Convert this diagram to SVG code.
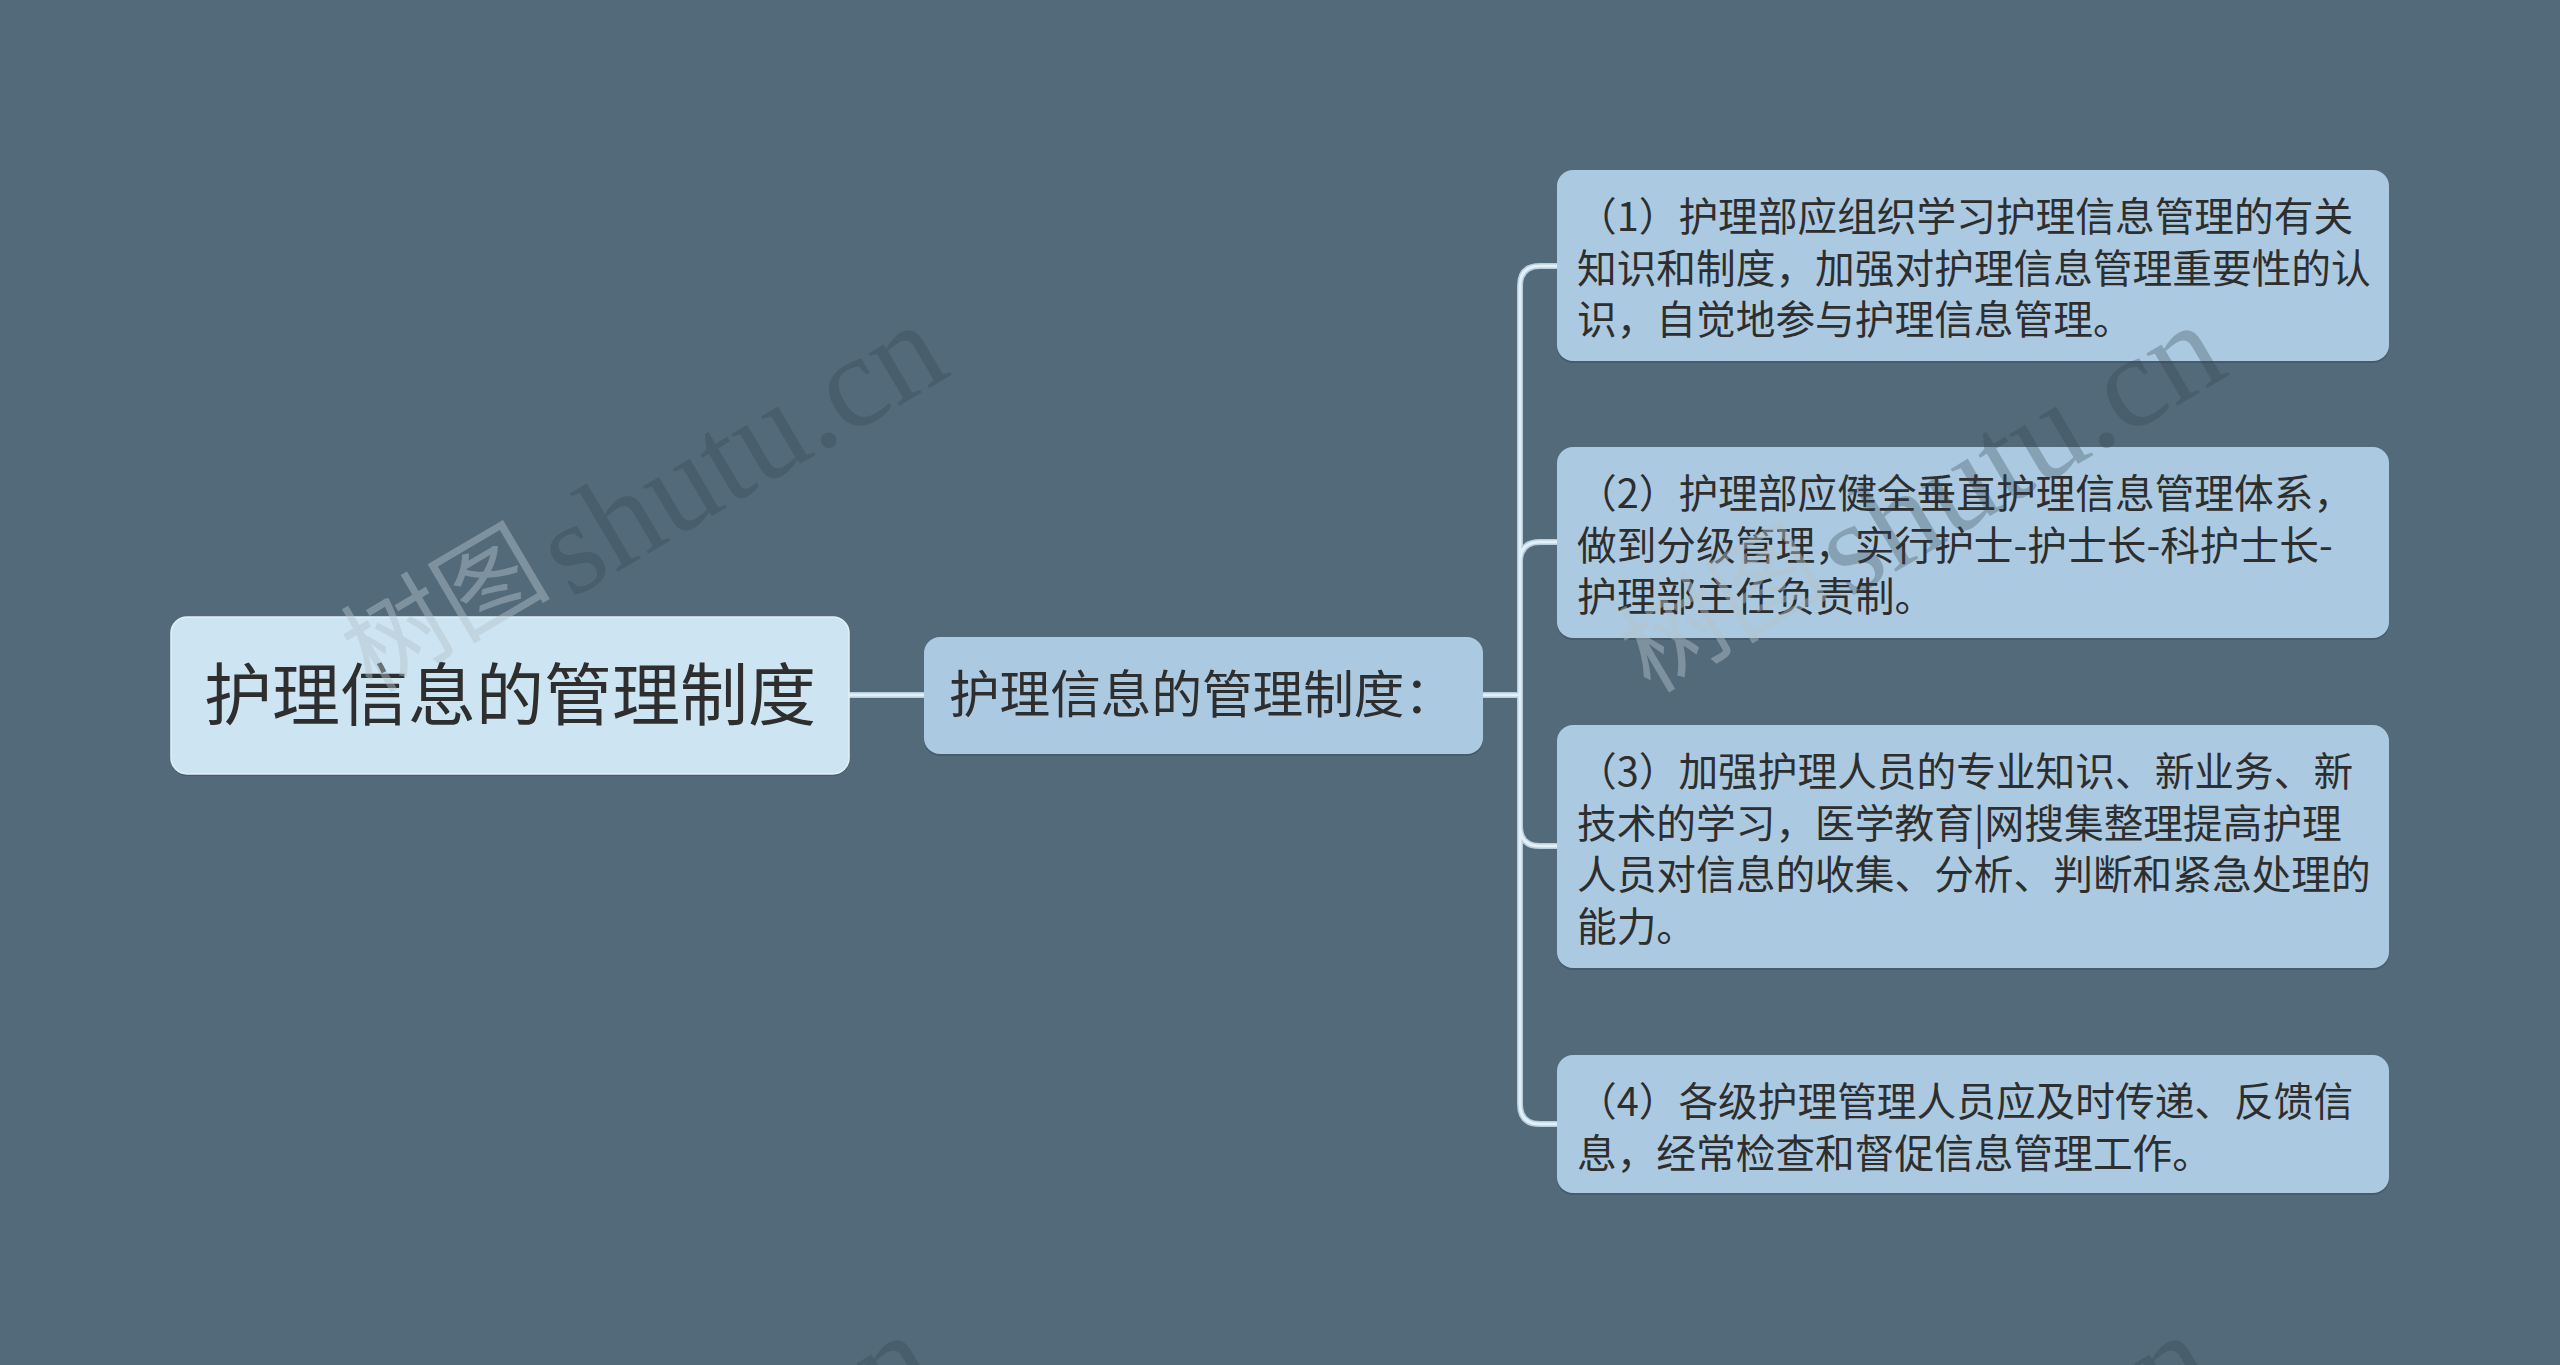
<svg xmlns="http://www.w3.org/2000/svg" width="2560" height="1365" viewBox="0 0 2560 1365">
<style>
.bg{fill:#536a7a}
.shadow{fill:#3e5262;opacity:0.6}
.root{fill:#cde5f2;stroke:#e2f0f8;stroke-width:1.5}
.mid{fill:#abcae1}
.leaf{fill:#abcae1}
.t{font-family:"Noto Sans CJK SC","Noto Sans",sans-serif;fill:#2e2e2e}
.t1{font-size:68px}
.t2{font-size:50.6px}
.t3{font-size:39.7px}
.lnOuter{fill:none;stroke:#b6cedd;stroke-width:6;stroke-linecap:round}
.lnInner{fill:none;stroke:#e4f0f7;stroke-width:3;stroke-linecap:round}
.wmCjk{font-family:"Noto Sans CJK SC",sans-serif;font-size:105px;fill:#b4c2cc;opacity:0.45}
.wmLat{font-family:"Liberation Serif",serif;font-size:132px;fill:#33444f;opacity:0.3}
</style>
<defs>
<g id="wm">
<text class="wmCjk" transform="translate(372,694) rotate(-30.5)">树图</text>
<text class="wmLat" transform="translate(571,599) rotate(-30.5)">shutu.cn</text>
</g>
<path id="conn" d="M849,695 H924 M1483,695 H1520 M1520,695 V286 Q1520,266 1540,266 H1557 M1520,695 V562 Q1520,542 1540,542 H1557 M1520,695 V826 Q1520,846 1540,846 H1557 M1520,695 V1104 Q1520,1124 1540,1124 H1557"/>
</defs>
<rect class="bg" x="0" y="0" width="2560" height="1365"/>

<g id="connectors">
<use href="#conn" class="lnOuter"/>
<use href="#conn" class="lnInner"/>
</g>

<g id="node-root">
<rect class="shadow" x="171" y="619" width="678" height="157" rx="16"/>
<rect class="root" x="171" y="617" width="678" height="157" rx="16"/>
<text class="t t1" x="510" y="720" text-anchor="middle">护理信息的管理制度</text>
</g>

<g id="node-mid">
<rect class="shadow" x="924" y="639" width="559" height="117" rx="16"/>
<rect class="mid" x="924" y="637" width="559" height="117" rx="16"/>
<text class="t t2" x="949" y="713">护理信息的管理制度：</text>
</g>

<g id="node-1">
<rect class="shadow" x="1557" y="172" width="832" height="191" rx="16"/>
<rect class="leaf" x="1557" y="170" width="832" height="191" rx="16"/>
<text class="t t3"><tspan x="1577" y="231">（1）护理部应组织学习护理信息管理的有关</tspan><tspan x="1577" y="282.5">知识和制度，加强对护理信息管理重要性的认</tspan><tspan x="1577" y="334">识，自觉地参与护理信息管理。</tspan></text>
</g>

<g id="node-2">
<rect class="shadow" x="1557" y="449" width="832" height="191" rx="16"/>
<rect class="leaf" x="1557" y="447" width="832" height="191" rx="16"/>
<text class="t t3"><tspan x="1577" y="508">（2）护理部应健全垂直护理信息管理体系，</tspan><tspan x="1577" y="559.5">做到分级管理，实行护士-护士长-科护士长-</tspan><tspan x="1577" y="611">护理部主任负责制。</tspan></text>
</g>

<g id="node-3">
<rect class="shadow" x="1557" y="727" width="832" height="243" rx="16"/>
<rect class="leaf" x="1557" y="725" width="832" height="243" rx="16"/>
<text class="t t3"><tspan x="1577" y="786">（3）加强护理人员的专业知识、新业务、新</tspan><tspan x="1577" y="837.5">技术的学习，医学教育|网搜集整理提高护理</tspan><tspan x="1577" y="889">人员对信息的收集、分析、判断和紧急处理的</tspan><tspan x="1577" y="940.5">能力。</tspan></text>
</g>

<g id="node-4">
<rect class="shadow" x="1557" y="1057" width="832" height="138" rx="16"/>
<rect class="leaf" x="1557" y="1055" width="832" height="138" rx="16"/>
<text class="t t3"><tspan x="1577" y="1116">（4）各级护理管理人员应及时传递、反馈信</tspan><tspan x="1577" y="1167.5">息，经常检查和督促信息管理工作。</tspan></text>
</g>

<g id="watermarks">
<use href="#wm"/>
<use href="#wm" transform="translate(1278,0)"/>
<use href="#wm" transform="translate(-12,1010)"/>
<use href="#wm" transform="translate(1266,1010)"/>
</g>
</svg>
